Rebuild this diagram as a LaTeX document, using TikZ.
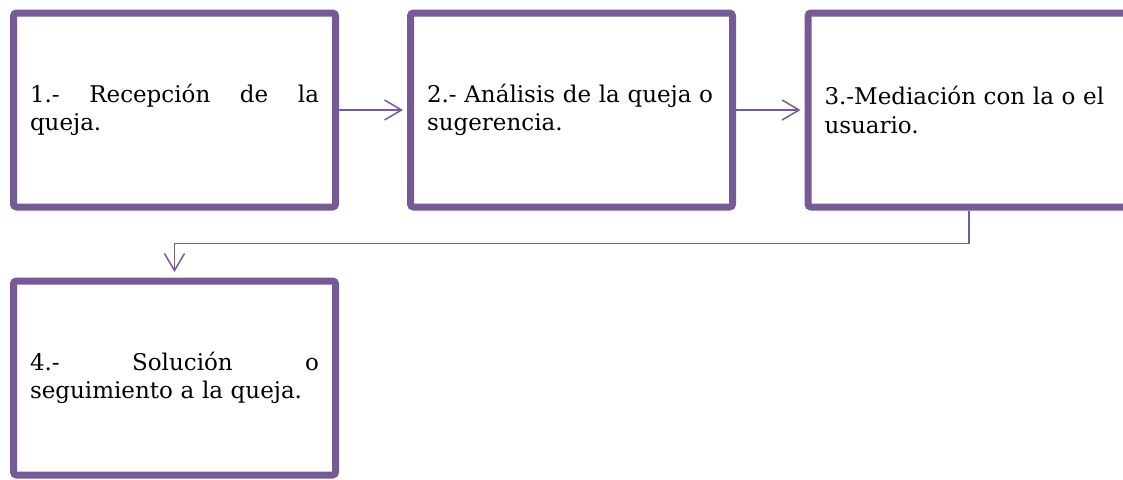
\documentclass[tikz,border=0pt]{standalone}
\usepackage{fontspec}
\setmainfont{DejaVu Serif}
\usetikzlibrary{arrows.meta,shadows}
\definecolor{boxpurple}{RGB}{117,90,150}
\begin{document}
\begin{tikzpicture}[x=1pt,y=-1pt,
  stepbox/.style={draw=boxpurple, line width=7pt, rounded corners=3pt, fill=white,
    minimum width=322pt, minimum height=194pt, text width=289pt, inner sep=0pt,
    font=\fontsize{23}{28.5}\selectfont, align=left,
    drop shadow={shadow xshift=1pt, shadow yshift=-2.5pt, opacity=0.3, fill=black!60}},
  conn/.style={draw=boxpurple, line width=1.5pt, -{Straight Barb[length=17pt,width=20pt]}}]
\useasboundingbox (0,0) rectangle (1123,479);
\node[stepbox] (n1) at (174.5,110) {1.-\hfill Recepción\hfill de\hfill la\\queja.};
\node[stepbox] (n2) at (571.5,110) {\mbox{2.- Análisis de la queja o}\\sugerencia.};
\node[stepbox] (n3) at (969,110) {\mbox{3.-Mediación con la o el}\\usuario.};
\node[stepbox] (n4) at (174.5,378) {4.-\hfill Solución\hfill o\\seguimiento a la queja.};
\draw[conn, shorten >=4pt] (n1.east) -- (n2.west);
\draw[conn, shorten >=4pt] (n2.east) -- (n3.west);
\draw[conn, shorten >=5.5pt] (n3.south) -- ++(0,33) -| (n4.north);
\end{tikzpicture}
\end{document}
